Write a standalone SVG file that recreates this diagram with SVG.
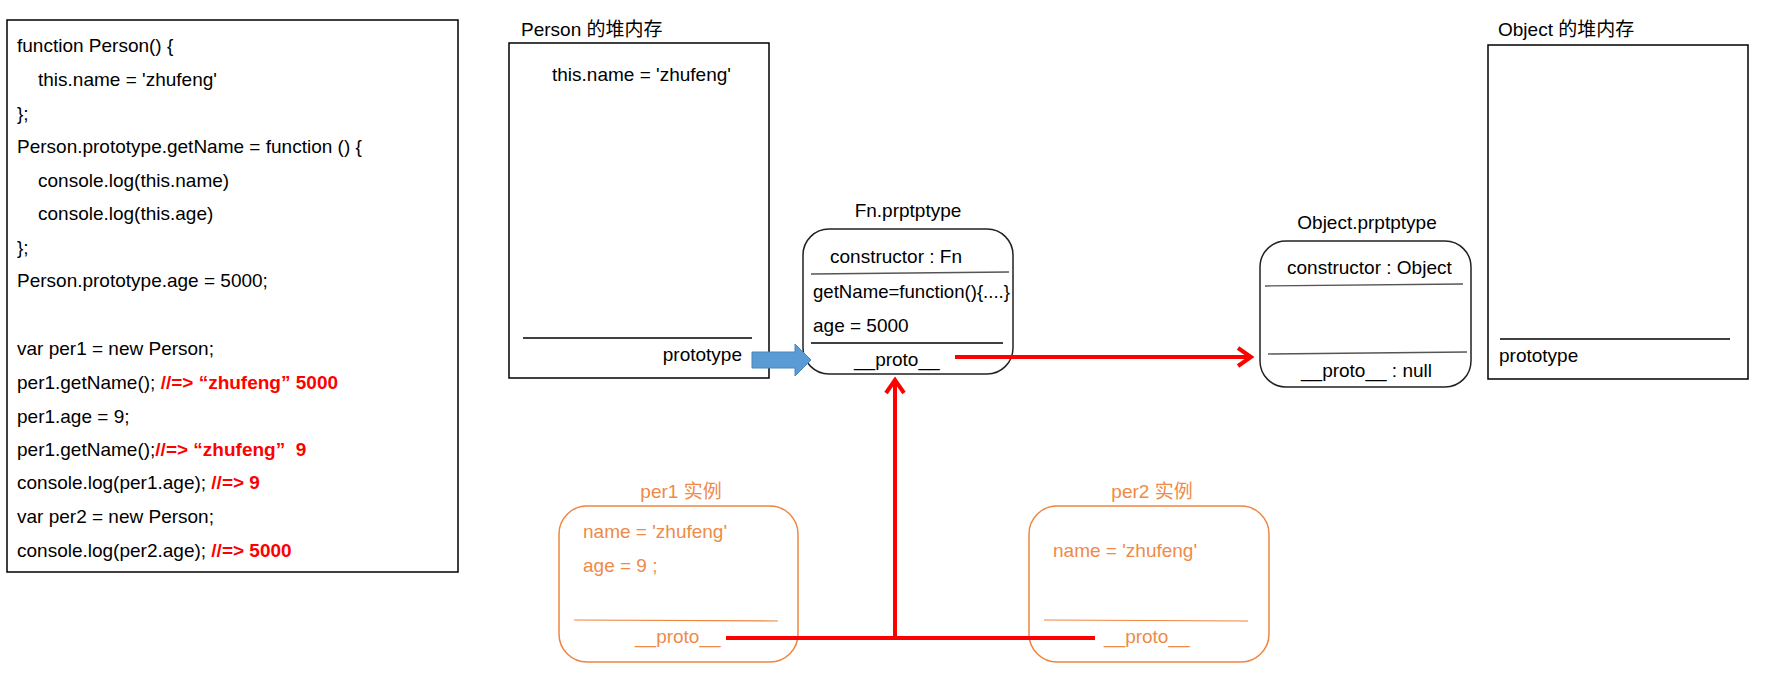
<svg xmlns="http://www.w3.org/2000/svg" width="1766" height="692" viewBox="0 0 1766 692">
<style>
text{font-family:"Liberation Sans","Noto Sans CJK SC",Arial,sans-serif;font-size:19px;fill:#000;white-space:pre}
.red{fill:#ff0000;font-weight:bold}
.or{fill:#ef8a48}
.box{fill:#fff;stroke:#000;stroke-width:1.5}
.rbox{fill:#fff;stroke:#222;stroke-width:1.5}
.obox{fill:#fff;stroke:#ee8540;stroke-width:1.5}
.sep{stroke:#000;stroke-width:1.3}
.gsep{stroke:#555;stroke-width:1.3}
.osep{stroke:#ee8540;stroke-width:1.2}
.rl{stroke:#ff0000;stroke-width:4;fill:none}
.mid{text-anchor:middle}
</style>
<defs>
<marker id="ah" markerUnits="userSpaceOnUse" markerWidth="30" markerHeight="30" viewBox="-20 -15 30 30" refX="-4" refY="0" orient="auto">
<path d="M-16,-9 L-3,0 L-16,9" fill="none" stroke="#ff0000" stroke-width="4"/>
</marker>
</defs>

<g id="code">
<rect class="box" x="7" y="20" width="451" height="552"/>
<text x="17" y="52">function Person() {</text>
<text x="38" y="86">this.name = 'zhufeng'</text>
<text x="17" y="120">};</text>
<text x="17" y="153">Person.prototype.getName = function () {</text>
<text x="38" y="187">console.log(this.name)</text>
<text x="38" y="220">console.log(this.age)</text>
<text x="17" y="254">};</text>
<text x="17" y="287">Person.prototype.age = 5000;</text>
<text x="17" y="355">var per1 = new Person;</text>
<text x="17" y="389">per1.getName(); <tspan class="red">//=&gt; “zhufeng” 5000</tspan></text>
<text x="17" y="423">per1.age = 9;</text>
<text x="17" y="456">per1.getName();<tspan class="red">//=&gt; “zhufeng”  9</tspan></text>
<text x="17" y="489">console.log(per1.age); <tspan class="red">//=&gt; 9</tspan></text>
<text x="17" y="523">var per2 = new Person;</text>
<text x="17" y="557">console.log(per2.age); <tspan class="red">//=&gt; 5000</tspan></text>
</g>

<g id="person-heap">
<text x="521" y="36">Person 的堆内存</text>
<rect class="box" x="509" y="43" width="260" height="335"/>
<text x="552" y="81">this.name = 'zhufeng'</text>
<line class="sep" x1="523" y1="338" x2="752" y2="338"/>
<text x="742" y="361" text-anchor="end">prototype</text>
</g>

<g id="fn-prototype">
<text class="mid" x="908" y="217">Fn.prptptype</text>
<rect class="rbox" x="803" y="229" width="210" height="145" rx="26" ry="26"/>
<text x="830" y="263">constructor : Fn</text>
<line class="gsep" x1="811" y1="274" x2="1009" y2="272"/>
<text x="813" y="298" textLength="197" lengthAdjust="spacingAndGlyphs">getName=function(){....}</text>
<text x="813" y="332">age = 5000</text>
<line class="sep" x1="811" y1="343" x2="1003" y2="343"/>
<text x="854" y="366">__proto__</text>
</g>

<g id="object-prototype">
<text class="mid" x="1367" y="229">Object.prptptype</text>
<rect class="rbox" x="1260" y="241" width="211" height="146" rx="26" ry="26"/>
<text x="1287" y="274">constructor : Object</text>
<line class="gsep" x1="1265" y1="286" x2="1463" y2="284"/>
<line class="gsep" x1="1268" y1="354" x2="1467" y2="352"/>
<text x="1301" y="377">__proto__ : null</text>
</g>

<g id="object-heap">
<text x="1498" y="36">Object 的堆内存</text>
<rect class="box" x="1488" y="45" width="260" height="334"/>
<line class="sep" x1="1500" y1="339" x2="1730" y2="339"/>
<text x="1499" y="362">prototype</text>
</g>

<g id="per1">
<text class="or mid" x="681" y="498">per1 实例</text>
<rect class="obox" x="559" y="506" width="239" height="156" rx="28" ry="28"/>
<text class="or" x="583" y="538">name = 'zhufeng'</text>
<text class="or" x="583" y="572">age = 9 ;</text>
<line class="osep" x1="574" y1="620" x2="778" y2="621"/>
<text class="or" x="635" y="643">__proto__</text>
</g>

<g id="per2">
<text class="or mid" x="1152" y="498">per2 实例</text>
<rect class="obox" x="1029" y="506" width="240" height="156" rx="28" ry="28"/>
<text class="or" x="1053" y="557">name = 'zhufeng'</text>
<line class="osep" x1="1044" y1="620" x2="1248" y2="621"/>
<text class="or" x="1104" y="643">__proto__</text>
</g>

<g id="connectors">
<polygon points="752,352 795,352 795,344 811,360 795,376 795,368 752,368" fill="#5b9bd5" stroke="#4a86c0" stroke-width="1"/>
<line class="rl" x1="955" y1="357" x2="1250" y2="357" marker-end="url(#ah)"/>
<line class="rl" x1="726" y1="638" x2="1095" y2="638"/>
<line class="rl" x1="895" y1="638" x2="895" y2="381" marker-end="url(#ah)"/>
</g>
</svg>
